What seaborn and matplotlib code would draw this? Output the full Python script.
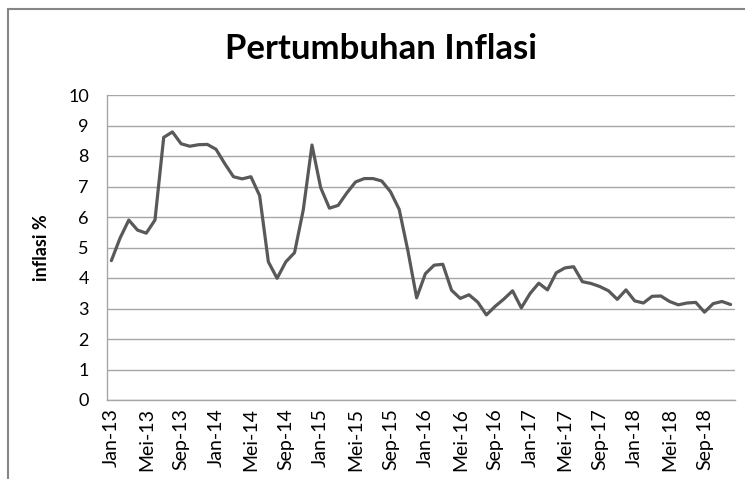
import pandas as pd
import numpy as np
import matplotlib
matplotlib.use('Agg')
import matplotlib.pyplot as plt
from matplotlib.lines import Line2D
import seaborn as sns

# Monthly inflation (%), Jan 2013 - Dec 2018
months_id = ['Jan', 'Feb', 'Mar', 'Apr', 'Mei', 'Jun',
             'Jul', 'Agu', 'Sep', 'Okt', 'Nov', 'Des']
years = ['13', '14', '15', '16', '17', '18']
inflasi = [4.57, 5.31, 5.90, 5.57, 5.47, 5.90, 8.61, 8.79, 8.40, 8.32, 8.37, 8.38,
           8.22, 7.75, 7.32, 7.25, 7.32, 6.70, 4.53, 3.99, 4.53, 4.83, 6.23, 8.36,
           6.96, 6.29, 6.38, 6.79, 7.15, 7.26, 7.26, 7.18, 6.83, 6.25, 4.89, 3.35,
           4.14, 4.42, 4.45, 3.60, 3.33, 3.45, 3.21, 2.79, 3.07, 3.31, 3.58, 3.02,
           3.49, 3.83, 3.61, 4.17, 4.33, 4.37, 3.88, 3.82, 3.72, 3.58, 3.30, 3.61,
           3.25, 3.18, 3.40, 3.41, 3.23, 3.12, 3.18, 3.20, 2.88, 3.16, 3.23, 3.13]

bulan = [m + '-' + y for y in years for m in months_id]
df = pd.DataFrame({'idx': np.arange(len(inflasi)), 'bulan': bulan,
                   'inflasi': inflasi})

sns.set_style('white')
plt.rcParams['font.family'] = ['Lato', 'DejaVu Sans']
plt.rcParams['text.color'] = 'black'
plt.rcParams['axes.labelcolor'] = 'black'
plt.rcParams['xtick.color'] = 'black'
plt.rcParams['ytick.color'] = 'black'

fig = plt.figure(figsize=(7.45, 4.79), dpi=100)
ax = fig.add_axes([107/745, 1 - 400/479, 628/745, 305/479])

sns.lineplot(data=df, x='idx', y='inflasi', ax=ax, color='#595959',
             linewidth=2.3)

ax.set_xlim(-0.5, len(inflasi) - 0.5)
ax.set_ylim(0, 10)
ax.set_yticks(range(0, 11))
ax.set_xticks(df['idx'][::4])
ax.set_xticklabels(df['bulan'][::4], rotation=90, fontsize=14)
ax.tick_params(axis='y', labelsize=13, length=0, pad=13)
ax.tick_params(axis='x', length=0, pad=6)
ax.grid(axis='y', color='#a6a6a6', linewidth=1)
ax.set_axisbelow(True)
for s in ['top', 'right']:
    ax.spines[s].set_visible(False)
for s in ['left', 'bottom']:
    ax.spines[s].set_color('#a6a6a6')
    ax.spines[s].set_linewidth(1)
ax.set_xlabel('')
ax.set_ylabel('inflasi %', fontsize=13, fontweight='bold', labelpad=13)

fig.text(381/745, 1 - 49/479, 'Pertumbuhan Inflasi', ha='center',
         va='center', fontsize=25, fontweight='bold')

# outer chart border
fig.add_artist(Line2D([8/745, 8/745], [0, 1 - 9/479], color='#868686',
                      linewidth=1.5, transform=fig.transFigure))
fig.add_artist(Line2D([8/745, 1], [1 - 9/479, 1 - 9/479], color='#868686',
                      linewidth=1.5, transform=fig.transFigure))

fig.savefig('out.png', dpi=100)
